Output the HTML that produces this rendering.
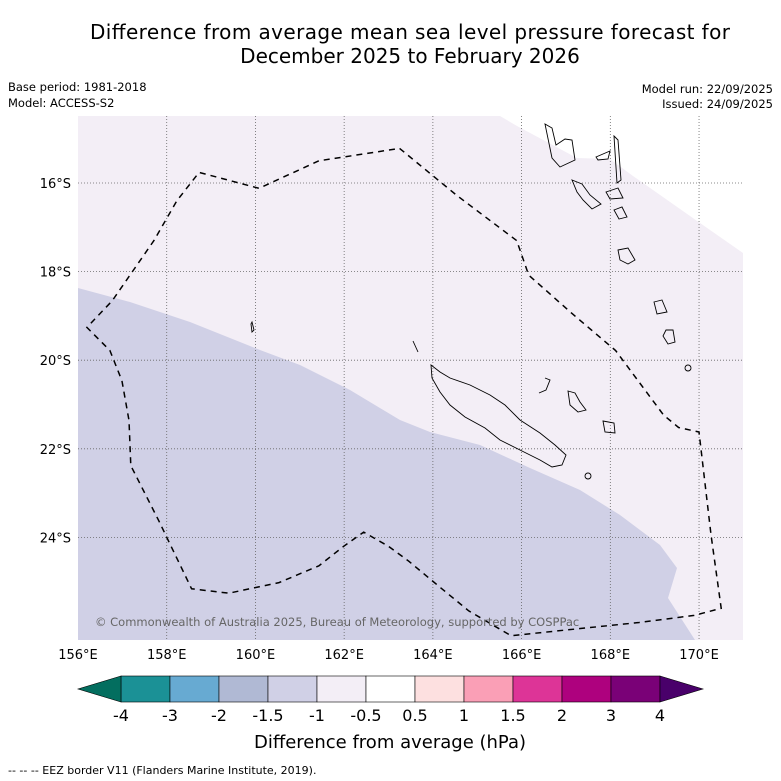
<!DOCTYPE html>
<html><head><meta charset="utf-8"><style>
body{margin:0;background:#fff;font-family:"DejaVu Sans","Liberation Sans",sans-serif;overflow:hidden;}
svg{display:block}
</style></head><body>
<svg id="chart" width="781" height="781" viewBox="0 0 781 781" xmlns="http://www.w3.org/2000/svg" font-family="DejaVu Sans, Liberation Sans, sans-serif">
<text x="410" y="39" font-size="20" text-anchor="middle" textLength="640" fill="#000">Difference from average mean sea level pressure forecast for</text>
<text x="410" y="63" font-size="20" text-anchor="middle" fill="#000">December 2025 to February 2026</text>
<text x="8" y="91" font-size="11.5">Base period: 1981-2018</text>
<text x="8" y="107" font-size="11.5">Model: ACCESS-S2</text>
<text x="773" y="93" font-size="11.5" text-anchor="end">Model run: 22/09/2025</text>
<text x="773" y="108" font-size="11.5" text-anchor="end">Issued: 24/09/2025</text>
<defs><clipPath id="mapclip"><rect x="78" y="116" width="665" height="524"/></clipPath></defs>
<g id="map" clip-path="url(#mapclip)">
<rect x="78" y="116" width="665" height="524" fill="#f3eef6"/>
<polygon points="500,116 517,126 577,158 610,159 633,176 700,223 743,253 743,116" fill="#ffffff"/>
<polygon points="78,288 130,302 190,322 260,350 300,365 350,390 400,420 430,432 480,445 530,468 580,490 620,515 660,545 677,568 668,598 695,640 78,640" fill="#d0d0e6"/>
<g id="grid"></g>
<g fill="none" stroke="#000" stroke-width="0.9">
<path d="M431,365 L440,372 L450,378 L470,385 L490,395 L505,405 L520,420 L540,433 L555,445 L566,455 L562,465 L552,467 L540,460 L520,450 L500,440 L485,428 L465,417 L450,405 L440,392 L432,378 Z"/>
<path d="M413,341 L418,352"/>
<path d="M545,378 L550,380 L546,390 L539,393"/>
<path d="M568,391 L575,393 L580,402 L586,410 L578,412 L570,405 Z"/>
<path d="M603,421 L614,423 L615,433 L605,432 Z"/>
<ellipse cx="588" cy="476" rx="3" ry="3"/>
<path d="M545,124 L552,128 L556,145 L565,139 L572,140 L575,160 L560,167 L552,158 Z"/>
<path d="M596,157 L610,151 L608,159 L598,160 Z"/>
<path d="M614,136 L618,140 L621,180 L617,183 Z"/>
<path d="M572,180 L582,184 L590,195 L601,204 L592,209 L583,200 L577,192 Z"/>
<path d="M606,192 L618,188 L623,198 L610,199 Z"/>
<path d="M614,210 L622,207 L627,217 L619,219 Z"/>
<path d="M618,250 L628,248 L635,260 L628,264 L620,260 Z"/>
<path d="M654,302 L662,300 L667,312 L657,314 Z"/>
<path d="M666,330 L673,330 L675,342 L668,344 L663,336 Z"/>
<ellipse cx="688" cy="368" rx="3" ry="3"/>
<path d="M252,322 L254,330 L252,332 L251,324 Z"/>
</g>
<path id="eez" fill="none" stroke="#000" stroke-width="1.5" stroke-dasharray="6,5"/>
<text x="95" y="626" font-size="11.5" fill="#666">© Commonwealth of Australia 2025, Bureau of Meteorology, supported by COSPPac</text>
</g>
<g id="xticks"></g>
<g id="yticks"></g>
<g id="cbar"></g>
<text x="390" y="748" font-size="18" text-anchor="middle">Difference from average (hPa)</text>
<text x="8" y="774" font-size="11">--  --  -- EEZ border V11 (Flanders Marine Institute, 2019).</text>
</svg>
<script>
const lonTicks=[156,158,160,162,164,166,168,170];
const latTicks=[16,18,20,22,24];
const cbLevels=["-4","-3","-2","-1.5","-1","-0.5","0.5","1","1.5","2","3","4"];
const cbColors=["#1b9196","#67aad2","#b0b9d4","#d0d0e6","#f3eef6","#ffffff","#fde0e0","#fa9fb6","#dd3497","#ae017e","#7a0177"];
const cbLow="#036e5f", cbHigh="#49006a";
const eezLon=[163.25,164.54,165.89,166.16,167.13,168.12,169.2,169.54,170.0,170.27,170.5,169.89,168.65,167.29,165.76,164.81,164.13,163.46,163.0,162.44,161.99,161.43,160.53,159.4,158.56,157.82,157.19,157.15,156.99,156.72,156.2,156.77,157.71,158.23,158.73,160.08,161.43];
const eezLat=[15.22,16.28,17.30,18.08,18.94,19.78,21.24,21.52,21.62,23.94,25.60,25.76,25.92,26.06,26.22,25.66,25.10,24.54,24.20,23.88,24.20,24.64,25.02,25.26,25.16,23.62,22.38,21.36,20.46,19.78,19.26,18.66,17.30,16.40,15.76,16.12,15.50];
const X=lon=>78+(lon-156)*44.36;
const Y=lat=>183+(lat-16)*44.3;
const NS="http://www.w3.org/2000/svg";
function mk(tag,attrs,parent){const e=document.createElementNS(NS,tag);for(const k in attrs)e.setAttribute(k,attrs[k]);parent.appendChild(e);return e;}
const grid=document.getElementById('grid');
lonTicks.forEach(l=>{if(l===156)return;const ln=mk('line',{x1:X(l),x2:X(l),y1:116,y2:640,stroke:'#666','stroke-width':0.8,'stroke-dasharray':'1,2'},grid);

});
latTicks.forEach(l=>{const ln=mk('line',{x1:78,x2:743,y1:Y(l),y2:Y(l),stroke:'#666','stroke-width':0.8,'stroke-dasharray':'1,2'},grid);

});
const xt=document.getElementById('xticks');
lonTicks.forEach(l=>{const t=mk('text',{x:X(l),y:659,'font-size':13,'text-anchor':'middle'},xt);t.textContent=l+'°E';

});
const yt=document.getElementById('yticks');
latTicks.forEach(l=>{const t=mk('text',{x:71,y:Y(l)+5,'font-size':13,'text-anchor':'end'},yt);t.textContent=l+'°S';

});
let d='';eezLon.forEach((lo,i)=>{d+=(i?'L':'M')+X(lo).toFixed(1)+','+Y(eezLat[i]).toFixed(1);});d+='Z';
document.getElementById('eez').setAttribute('d',d);
const cb=document.getElementById('cbar');
const cx0=121,cw=49,cy=676,ch=26;
cbColors.forEach((c,i)=>{const r=mk('rect',{x:cx0+i*cw,y:cy,width:cw,height:ch,fill:c,stroke:'#000','stroke-width':0.6},cb);

});
const tl=mk('polygon',{points:`${cx0},${cy} ${cx0},${cy+ch} ${cx0-43},${cy+ch/2}`,fill:cbLow,stroke:'#000','stroke-width':0.6},cb);


const xe=cx0+cbColors.length*cw;
const tr=mk('polygon',{points:`${xe},${cy} ${xe},${cy+ch} ${xe+43},${cy+ch/2}`,fill:cbHigh,stroke:'#000','stroke-width':0.6},cb);


cbLevels.forEach((v,i)=>{const t=mk('text',{x:cx0+i*cw,y:721,'font-size':16,'text-anchor':'middle'},cb);t.textContent=v;

});
</script>
</body></html>
